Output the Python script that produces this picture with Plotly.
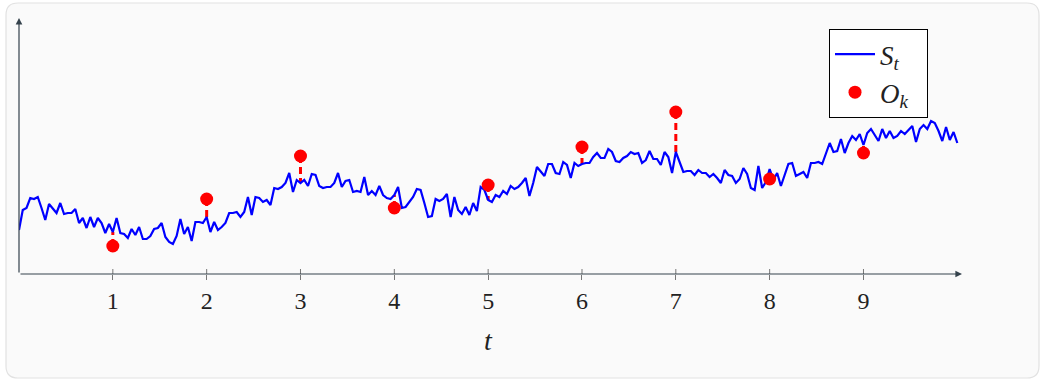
import plotly.graph_objects as go

# ---------------- data ----------------
dt = 0.04
S_values = [
    44, 64, 66, 76, 75, 77, 66, 54, 70, 66, 61, 71, 60, 61, 61, 65, 51, 56, 46, 57,
    47, 56, 51, 41, 50, 42, 56, 41, 40, 36, 45, 39, 47, 35, 35, 38, 45, 46, 51, 37,
    32, 30, 38, 55, 40, 47, 33, 52, 52, 51, 57, 42, 52, 44, 47, 51, 61, 61, 62, 57,
    62, 77, 59, 77, 76, 72, 74, 69, 86, 85, 87, 91, 101, 82, 94, 91, 94, 88, 100, 99,
    88, 86, 87, 87, 91, 101, 87, 93, 94, 82, 83, 82, 97, 79, 83, 79, 88, 79, 76, 75,
    79, 87, 66, 67, 72, 77, 85, 84, 71, 57, 58, 75, 73, 75, 80, 57, 77, 64, 60, 67,
    59, 71, 63, 87, 84, 74, 72, 79, 77, 83, 80, 88, 85, 87, 91, 96, 78, 91, 107, 102,
    98, 110, 110, 101, 100, 112, 109, 96, 111, 108, 110, 111, 111, 117, 121, 116, 116, 125, 122, 113,
    112, 116, 118, 122, 120, 121, 111, 114, 123, 115, 115, 109, 122, 117, 101, 122, 111, 102, 103, 103,
    99, 104, 101, 101, 97, 100, 96, 91, 104, 99, 98, 91, 95, 106, 100, 86, 84, 108, 86, 92,
    105, 94, 101, 88, 99, 110, 111, 98, 100, 102, 96, 111, 111, 112, 110, 121, 131, 122, 123, 135,
    121, 131, 138, 134, 140, 129, 141, 145, 139, 133, 145, 136, 143, 136, 138, 143, 140, 144, 148, 132,
    145, 149, 145, 153, 151, 143, 133, 147, 134, 142, 131,
]
t_values = [round(i * dt, 4) for i in range(len(S_values))]

obs_times = [1, 2, 3, 4, 5, 6, 7, 8, 9]
obs_values = [28, 75, 118, 66, 89, 127, 162, 95, 121]

tick_vals = [1, 2, 3, 4, 5, 6, 7, 8, 9]
tick_text = ["1", "2", "3", "4", "5", "6", "7", "8", "9"]

# ---------------- layout constants ----------------
W, H = 1044, 381
ML, MR, MT, MB = 19, 82, 18, 107
X_MAX = 10.05
Y_MAX = 256
AX_COLOR = "#34424c"
SERIF = "Liberation Serif"

pw = W - ML - MR
ph = H - MT - MB


def px_to_paper_x(px):
    return (px - ML) / pw


def px_to_paper_y(py):
    return (H - MB - py) / ph


fig = go.Figure()

# dashed stems from observation to state
stem_x, stem_y = [], []
for tk, ok in zip(obs_times, obs_values):
    idx = int(round(tk / dt))
    stem_x += [tk, tk, None]
    stem_y += [ok, S_values[idx], None]

fig.add_trace(go.Scatter(
    x=stem_x, y=stem_y, mode="lines",
    line=dict(color="#ff0000", width=3, dash="7px,4px"),
    showlegend=False, hoverinfo="skip",
))

fig.add_trace(go.Scatter(
    x=t_values, y=S_values, mode="lines",
    line=dict(color="#0000ff", width=2.2),
    name="<i>S</i><sub><i>t</i></sub>  ",
))

fig.add_trace(go.Scatter(
    x=obs_times, y=obs_values, mode="markers",
    marker=dict(color="#ff0000", size=13),
    name="<i>O</i><sub><i>k</i></sub>  ",
))

# card background
x0, x1 = px_to_paper_x(6), px_to_paper_x(1039)
y0, y1 = px_to_paper_y(378), px_to_paper_y(3)
rx, ry = 12 / pw, 12 / ph
card_path = (
    f"M {x0 + rx},{y1} L {x1 - rx},{y1} Q {x1},{y1} {x1},{y1 - ry} "
    f"L {x1},{y0 + ry} Q {x1},{y0} {x1 - rx},{y0} "
    f"L {x0 + rx},{y0} Q {x0},{y0} {x0},{y0 + ry} "
    f"L {x0},{y1 - ry} Q {x0},{y1} {x0 + rx},{y1} Z"
)
shapes = [dict(type="path", xref="paper", yref="paper", path=card_path,
               fillcolor="#fafafa", line=dict(color="#e2e2e2", width=1.2), layer="below")]

# tick marks (upper half; lower half from axis ticks)
for tv in tick_vals:
    shapes.append(dict(type="line", xref="x", yref="paper", x0=tv, x1=tv,
                       y0=0, y1=5 / ph, line=dict(color="#777777", width=1)))

annotations = [
    # x axis arrow
    dict(x=X_MAX, y=0, ax=0, ay=0, xref="x", yref="y", axref="x", ayref="y",
         text="", showarrow=True, arrowhead=2, arrowsize=1.1, arrowwidth=1.2,
         arrowcolor=AX_COLOR, standoff=0),
    # y axis arrow
    dict(x=0, y=Y_MAX, ax=0, ay=0, xref="x", yref="y", axref="x", ayref="y",
         text="", showarrow=True, arrowhead=2, arrowsize=1.1, arrowwidth=1.2,
         arrowcolor=AX_COLOR, standoff=0),
    # x axis label
    dict(x=5, y=px_to_paper_y(340), xref="x", yref="paper", text="<i>t</i>",
         showarrow=False, font=dict(family=SERIF, size=28, color="#222222"),
         xanchor="center", yanchor="middle"),
]

fig.update_layout(
    width=W, height=H,
    margin=dict(l=ML, r=MR, t=MT, b=MB),
    paper_bgcolor="#ffffff",
    plot_bgcolor="rgba(0,0,0,0)",
    shapes=shapes,
    annotations=annotations,
    showlegend=True,
    legend=dict(
        x=px_to_paper_x(829), y=px_to_paper_y(29), xanchor="left", yanchor="top",
        bgcolor="#ffffff", bordercolor="#000000", borderwidth=1,
        font=dict(family=SERIF, size=27, color="#222222"),
        itemwidth=40, tracegroupgap=2,
    ),
    xaxis=dict(
        range=[0, X_MAX], showgrid=False, zeroline=False, showline=False,
        tickmode="array", tickvals=tick_vals, ticktext=tick_text,
        ticks="outside", ticklen=5, tickcolor="#777777", tickwidth=1,
        tickfont=dict(family=SERIF, size=24, color="#222222"),
    ),
    yaxis=dict(
        range=[0, Y_MAX], showgrid=False, zeroline=False, showline=False,
        showticklabels=False, ticks="",
    ),
)

fig.write_html("out.html")
